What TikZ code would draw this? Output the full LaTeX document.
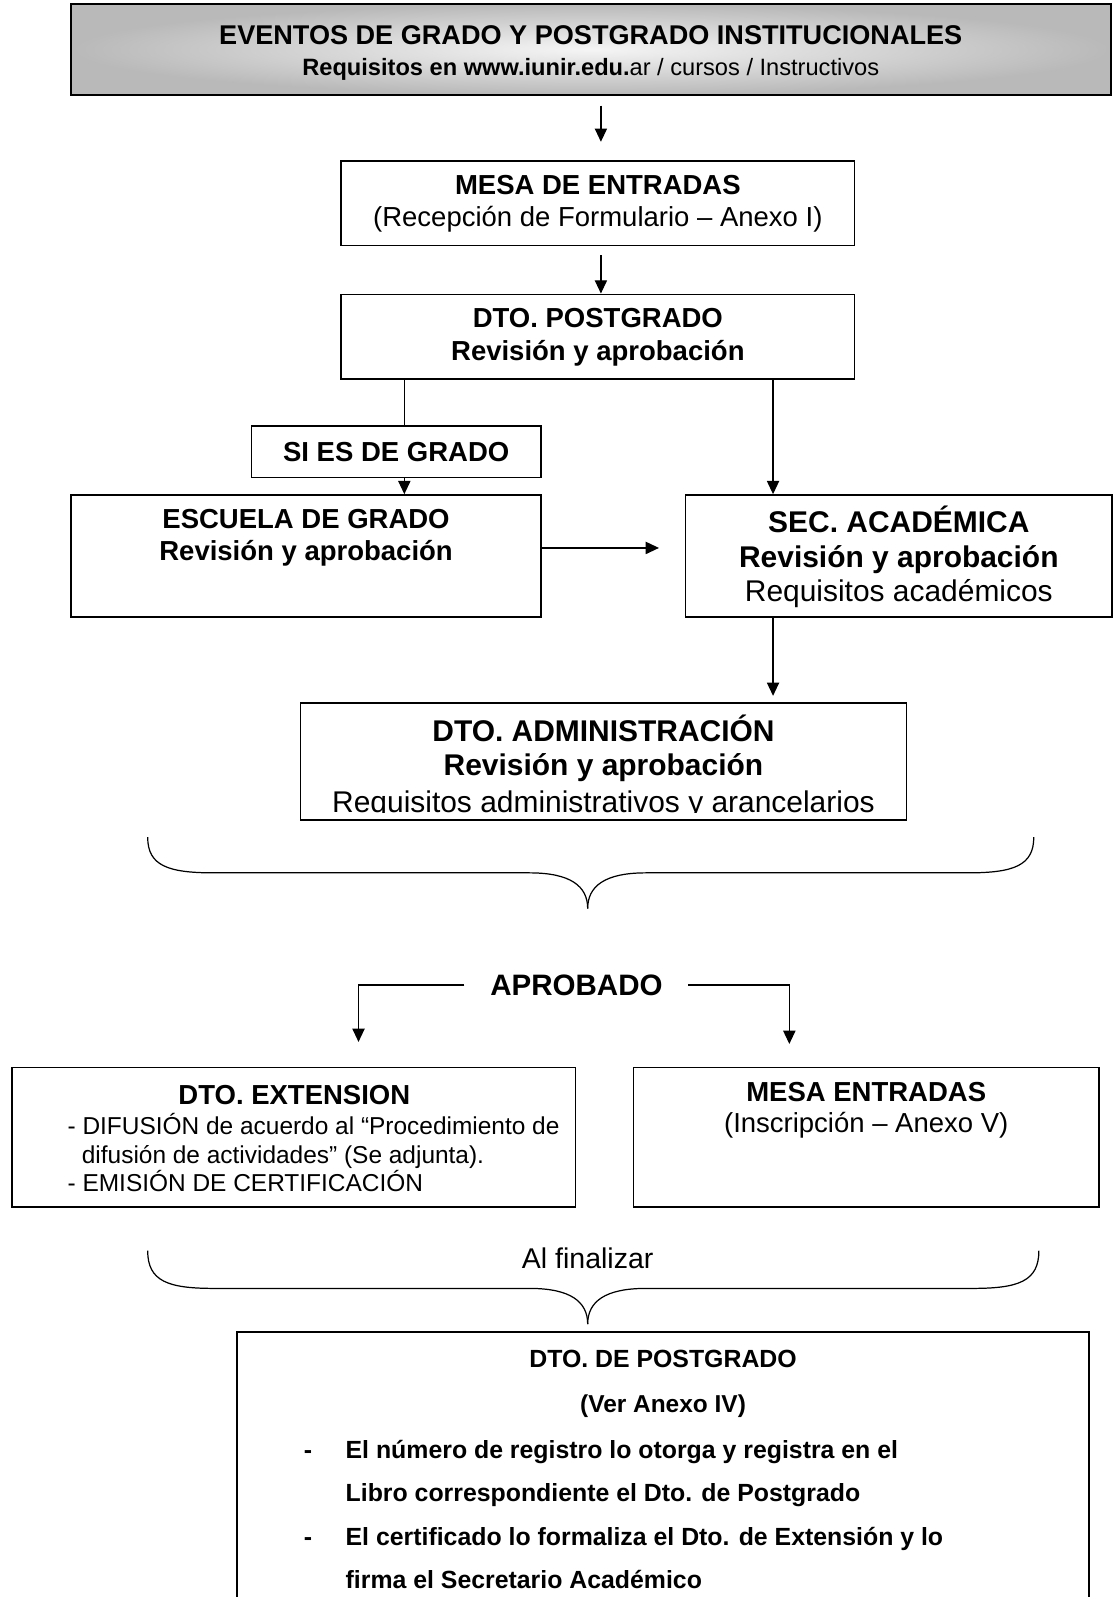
\documentclass[tikz,border=0pt]{standalone}
\usepackage{fontspec}
\setmainfont{Liberation Sans}
\usetikzlibrary{arrows.meta}

\begin{document}
\begin{tikzpicture}[x=0.5pt,y=-0.5pt,
	box/.style={draw,line width=0.8pt,inner sep=0pt},
	arr/.style={-{Triangle[length=6.5pt,width=6pt]},line width=0.6pt},
	txt/.style={align=center,inner sep=0pt}]
			\useasboundingbox (0,0) rectangle (1092,1568);
			% cajas
			\node[box,inner color=gray!8,outer color=gray!55,minimum width=510.5pt,minimum height=44.5pt] (eventos) at (580.5,48.5) {};
			\node[box,minimum width=252pt,minimum height=41.5pt] (mesa) at (587,199.5) {};
			\node[box,minimum width=252pt,minimum height=41.5pt] (postgrado) at (587,330.5) {};
			\node[box,minimum width=142pt,minimum height=25.5pt,font=\fontsize{13.5}{16}\selectfont\bfseries] (siesgrado) at (389,443.5) {SI ES DE GRADO};
			\node[box,minimum width=230.5pt,minimum height=60pt] (escuela) at (300.5,546) {};
			\node[box,minimum width=209.5pt,minimum height=60pt] (secacad) at (882.5,546) {};
			\node[box,minimum width=297.5pt,minimum height=57.5pt] (admin) at (592.5,747.5) {};
			\node[box,minimum width=276.5pt,minimum height=68.5pt] (extension) at (288.5,1116.5) {};
			\node[box,minimum width=228.5pt,minimum height=68.5pt] (mesains) at (850.5,1116.5) {};
			\node[box,minimum width=418pt,minimum height=136pt] (final) at (651,1444) {};
			% textos
			\node[txt,font=\fontsize{13.3}{15}\selectfont\bfseries] (eventostxt) at (580,52) {EVENTOS DE GRADO Y POSTGRADO INSTITUCIONALES\\\fontsize{11.6}{15}\selectfont Requisitos en www.iunir.edu.\mdseries ar / cursos / Instructivos};
			\node[txt,font=\fontsize{13.5}{16}\selectfont] (mesatxt) at (587,200) {\textbf{MESA DE ENTRADAS}\\(Recepción de Formulario – Anexo I)};
			\node[txt,font=\fontsize{13.5}{16.5}\selectfont\bfseries] (postgradotxt) at (587,331) {DTO. POSTGRADO\\Revisión y aprobación};
			\node[txt,font=\fontsize{13.5}{16}\selectfont\bfseries] (escuelatxt) at (300.5,528) {ESCUELA DE GRADO\\Revisión y aprobación};
			\node[txt,font=\fontsize{14.7}{17}\selectfont] (secacadtxt) at (882.5,547) {\textbf{SEC. ACADÉMICA}\\\textbf{Revisión y aprobación}\\Requisitos académicos};
			\begin{scope}
				\clip (admin.north west) rectangle ([yshift=4pt]admin.south east);
				\node[txt,font=\fontsize{14.7}{16.5}\selectfont] (admintxt) at (592.5,753) {\textbf{DTO. ADMINISTRACIÓN}\\\textbf{Revisión y aprobación}\\[1.5pt]Requisitos administrativos y arancelarios};
			\end{scope}
			\node[txt,font=\fontsize{14.5}{17}\selectfont\bfseries,inner xsep=12.5pt] (aprobado) at (566,967) {APROBADO};
			\node[txt,font=\fontsize{13.5}{16}\selectfont\bfseries] (extensiontxt) at (289,1075) {DTO. EXTENSION};
			\node[txt,align=left,anchor=west,font=\fontsize{12}{14}\selectfont] (extensionlst) at (66,1132) {- DIFUSIÓN de acuerdo al “Procedimiento de\\\hspace*{7pt}difusión de actividades” (Se adjunta).\\- EMISIÓN DE CERTIFICACIÓN};
			\node[txt,font=\fontsize{13.5}{15}\selectfont] (mesainstxt) at (850.5,1090) {\textbf{MESA ENTRADAS}\\(Inscripción – Anexo V)};
			\node[txt,font=\fontsize{14}{16}\selectfont] (finalizar) at (577,1235) {Al finalizar};
			\node[txt,font=\fontsize{12.2}{22}\selectfont\bfseries] (finaltxt) at (651,1359) {DTO. DE POSTGRADO\\\fontsize{12}{22}\selectfont(Ver Anexo IV)};
			\node[txt,align=left,anchor=west,font=\fontsize{12.2}{21.25}\selectfont\bfseries] (finallst) at (298,1487) {\makebox[20.5pt][l]{-}El número de registro lo otorga y registra en el\\\hspace*{20.5pt}Libro correspondiente el Dto. de Postgrado\\\makebox[20.5pt][l]{-}El certificado lo formaliza el Dto. de Extensión y lo\\\hspace*{20.5pt}firma el Secretario Académico};
			% puntos sueltos
			\coordinate (xizq) at (397,0);
			\coordinate (xder) at (759,0);
			\coordinate (hueco) at (647,538);
			\coordinate (aizq) at (352,1023);
			\coordinate (ader) at (775,1025);
			\coordinate (llave1) at (577,892);
			\coordinate (llave2) at (577,1300);
			% flechas
			\draw[arr,shorten <=5pt,shorten >=9pt] (eventos.south -| 590,0) -- (mesa.north -| 590,0);
			\draw[arr,shorten <=4.5pt] (mesa.south -| 590,0) -- (postgrado.north -| 590,0);
			\draw[line width=0.6pt] (postgrado.south -| xizq) -- (siesgrado.north -| xizq);
			\draw[arr] (siesgrado.south -| xizq) -- (escuela.north -| xizq);
			\draw[arr] (postgrado.south -| xder) -- (secacad.north -| xder);
			\draw[arr,shorten >=3pt] (secacad.south -| xder) -- (admin.north -| xder);
			\draw[arr] (escuela.east |- hueco) -- (hueco);
			\draw[arr] (aprobado.west) -| (aizq);
			\draw[arr] (aprobado.east) -| (ader);
			% llaves
			\draw[line width=0.6pt] (145,822) .. controls (145,850) and (165,857) .. (210,857) -- (520,857) .. controls (560,857) and (577,870) .. (llave1);
			\draw[line width=0.6pt] (1015,822) .. controls (1015,850) and (995,857) .. (950,857) -- (634,857) .. controls (594,857) and (577,870) .. (llave1);
			\draw[line width=0.6pt] (145,1228) .. controls (145,1258) and (165,1265) .. (210,1265) -- (520,1265) .. controls (560,1265) and (577,1278) .. (llave2);
			\draw[line width=0.6pt] (1020,1228) .. controls (1020,1258) and (1000,1265) .. (955,1265) -- (634,1265) .. controls (594,1265) and (577,1278) .. (llave2);
\end{tikzpicture}
\end{document}
